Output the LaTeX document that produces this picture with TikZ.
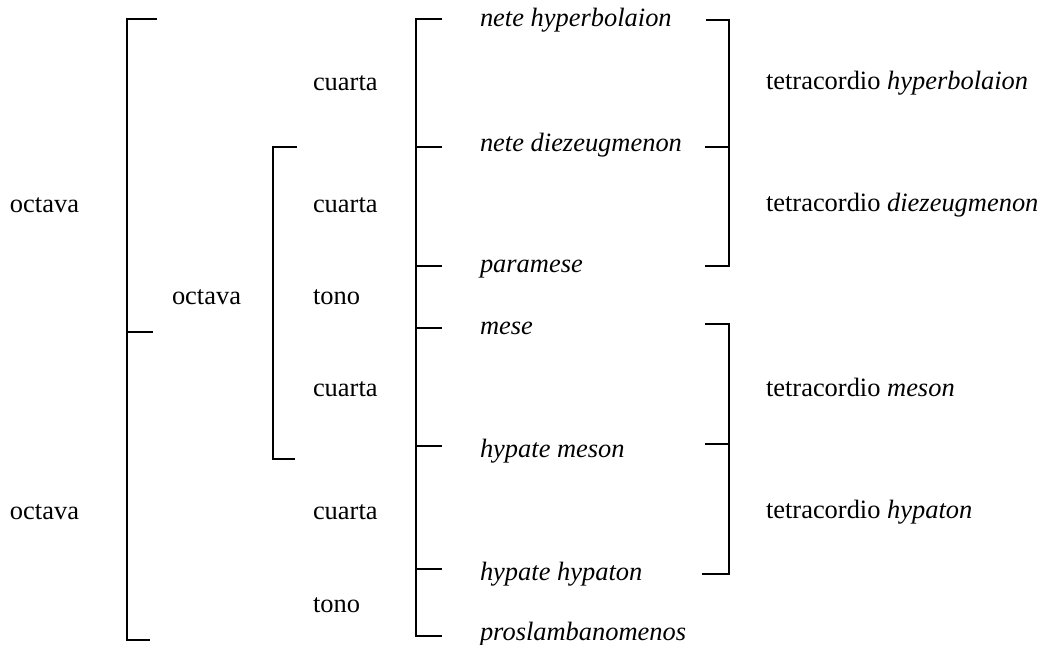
\documentclass[tikz,border=0pt]{standalone}
\usepackage{fontspec}
\setmainfont{Liberation Serif}
\usetikzlibrary{calc}

\tikzset{
    lbl/.style={anchor=base west, inner sep=0pt, font=\fontsize{11.9}{14}\selectfont},
    nota/.style={lbl, font=\fontsize{11.9}{14}\selectfont\itshape},
}

\begin{document}
\begin{tikzpicture}[x=0.45pt,y=-0.45pt,line width=0.9pt]
    \useasboundingbox (0,0) rectangle (1043,645);
    % Octavas
    \node[lbl] (octA) at (9,213) {octava};
    \node[lbl] (octB) at (9,519) {octava};
    \node[lbl] (octC) at (171,305) {octava};
    % Cuartas and tonos
    \node[lbl] (cua1) at (312,91) {cuarta};
    \node[lbl] (cua2) at (312,213) {cuarta};
    \node[lbl] (ton1) at (312,305) {tono};
    \node[lbl] (cua3) at (312,397) {cuarta};
    \node[lbl] (cua4) at (312,519) {cuarta};
    \node[lbl] (ton2) at (312,612) {tono};
    % Notes
    \node[nota] (neteH) at (479,27) {nete hyperbolaion};
    \node[nota] (neteD) at (479,152) {nete diezeugmenon};
    \node[nota] (param) at (479,273) {paramese};
    \node[nota] (mese) at (479,335) {mese};
    \node[nota] (hypM) at (479,457) {hypate meson};
    \node[nota] (hypH) at (479,580) {hypate hypaton};
    \node[nota] (pros) at (479,640) {proslambanomenos};
    % Tetracordios
    \node[lbl] (tetH) at (765,90) {tetracordio \textit{hyperbolaion}};
    \node[lbl] (tetD) at (765,212) {tetracordio \textit{diezeugmenon}};
    \node[lbl] (tetM) at (765,397) {tetracordio \textit{meson}};
    \node[lbl] (tetY) at (765,518) {tetracordio \textit{hypaton}};

    % Outer bracket
    \draw (157,19) coordinate (aTop)
        -| (127,640) coordinate (aBot)
        -- ++(23,0);
    \draw (127,332) -- ++(26,0);
    % Inner bracket
    \draw (297,147) coordinate (bTop)
        -| (273,459) coordinate (bBot)
        -- ++(22,0);
    % Note bracket
    \draw (442,19) -| (416,636) -- ++(26,0);
    \foreach \y in {147,266,328,446,569}
        \draw (416,\y) -- ++(26,0);
    % Tetracordio brackets, right
    \draw (706,20) -| (729,266) -- ++(-24,0);
    \draw (729,147) -- ++(-24,0);
    \draw (705,324) -| (729,574) -- ++(-27,0);
    \draw (729,444) -- ++(-24,0);
\end{tikzpicture}
\end{document}
